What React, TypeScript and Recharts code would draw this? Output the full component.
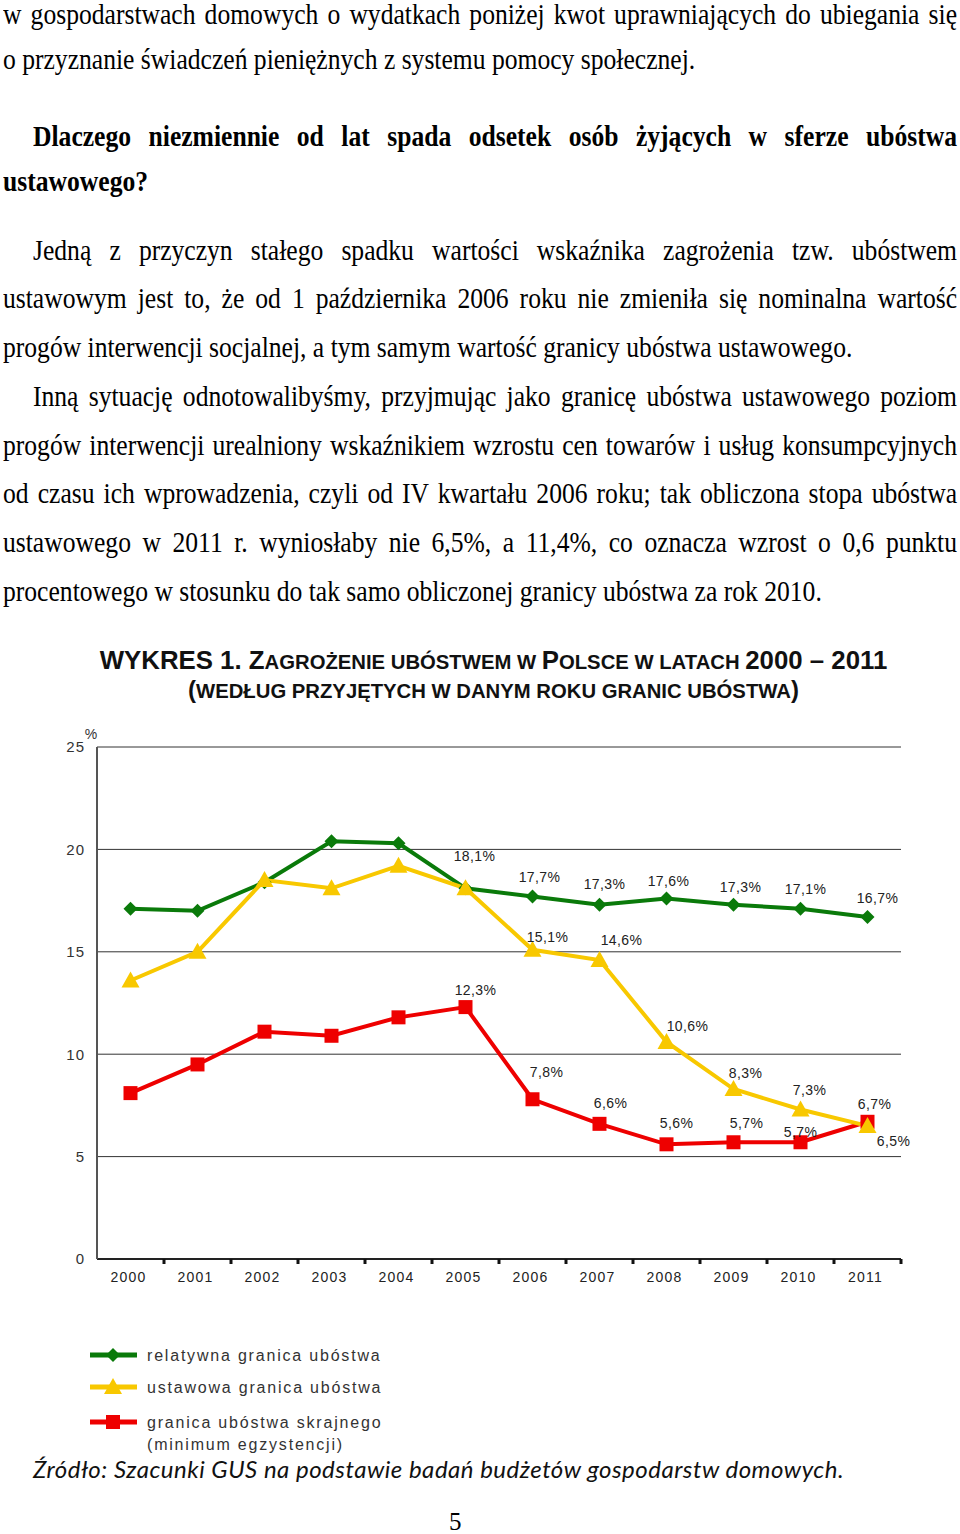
import React from 'react';
import { LineChart, Line, XAxis, YAxis, CartesianGrid, LabelList } from 'recharts';

// ---------- data ----------
const years = ['2000', '2001', '2002', '2003', '2004', '2005', '2006', '2007', '2008', '2009', '2010', '2011'];
const relativeLine = [17.1, 17.0, 18.4, 20.4, 20.3, 18.1, 17.7, 17.3, 17.6, 17.3, 17.1, 16.7];
const statutoryLine = [13.6, 15.0, 18.5, 18.1, 19.2, 18.1, 15.1, 14.6, 10.6, 8.3, 7.3, 6.5];
const extremeLine = [8.1, 9.5, 11.1, 10.9, 11.8, 12.3, 7.8, 6.6, 5.6, 5.7, 5.7, 6.7];
const yTicks = [0, 5, 10, 15, 20, 25];
const seriesNames = ['relatywna granica ubóstwa', 'ustawowa granica ubóstwa', 'granica ubóstwa skrajnego', '(minimum egzystencji)'];

const data = years.map((y, i) => ({
  year: y,
  relative: relativeLine[i],
  statutory: statutoryLine[i],
  extreme: extremeLine[i],
}));

// ---------- presentation ----------
const GREEN = '#0a7a0a';
const YELLOW = '#f8c800';
const RED = '#ee0000';
const SANS = '"Liberation Sans", Arial, sans-serif';
const SERIF = '"Liberation Serif", "Times New Roman", serif';

const CHART_TOP = 700;
const CHART_W = 960;
const CHART_H = 600;
const MARGIN = { top: 47, right: 59, left: 50, bottom: 11 };
const Y_AXIS_W = 47;
const PLOT_W = CHART_W - MARGIN.left - MARGIN.right - Y_AXIS_W;
const BAND = PLOT_W / years.length;

// label offsets (dx, dy) per point index; null = no label
const relOffsets: ([number, number] | null)[] = [null, null, null, null, null, [9, -32], [7, -20], [5, -21], [2, -18], [7, -18], [5, -20], [10, -19]];
const statOffsets: ([number, number] | null)[] = [null, null, null, null, null, null, [15, -13], [22, -20], [21, -16], [12, -16], [9, -19], [26, 15]];
const extOffsets: ([number, number] | null)[] = [null, null, null, null, null, [10, -17], [14, -27], [11, -21], [10, -21], [13, -19], [0, -10], [7, -18]];

const fmt = (v: number) => v.toFixed(1).replace('.', ',') + '%';

const makeLabel = (offsets: ([number, number] | null)[]) => (p: any) => {
  const off = offsets[p.index];
  if (!off) return null;
  return (
    <text
      key={`l${p.index}`}
      x={p.x + off[0]}
      y={p.y + off[1]}
      textAnchor="middle"
      dominantBaseline="central"
      fontFamily={SANS}
      fontSize={14}
      letterSpacing={0.4}
      fill="#222"
    >
      {fmt(p.value)}
    </text>
  );
};

const Diamond = ({ cx, cy, fill }: any) => (
  <polygon points={`${cx},${cy - 7} ${cx + 7},${cy} ${cx},${cy + 7} ${cx - 7},${cy}`} fill={fill} />
);
const Triangle = ({ cx, cy, fill }: any) => (
  <polygon points={`${cx},${cy - 9} ${cx + 9},${cy + 7} ${cx - 9},${cy + 7}`} fill={fill} />
);
const Square = ({ cx, cy, fill }: any) => <rect x={cx - 7} y={cy - 7} width={14} height={14} fill={fill} />;

const XTick = (props: any) => {
  const { x, y, payload } = props;
  return (
    <g>
      <line x1={x + BAND / 2} y1={y} x2={x + BAND / 2} y2={y + 5} stroke="#111" strokeWidth={3} />
      <text x={x - 2} y={y + 18} textAnchor="middle" dominantBaseline="central" fontFamily={SANS} fontSize={14} letterSpacing={1.2} fill="#222">
        {payload.value}
      </text>
    </g>
  );
};

type TL = { t: string; cy: number; indent?: number; just?: boolean; bold?: boolean; first?: boolean };
const textLines: TL[] = [
  { t: 'w gospodarstwach domowych o wydatkach poniżej kwot uprawniających do ubiegania się', cy: 14, just: true, first: true },
  { t: 'o przyznanie świadczeń pieniężnych z systemu pomocy społecznej.', cy: 62 },
  { t: 'Dlaczego niezmiennie od lat spada odsetek osób żyjących w sferze ubóstwa', cy: 139, indent: 30, just: true, bold: true },
  { t: 'ustawowego?', cy: 184, bold: true },
  { t: 'Jedną z przyczyn stałego spadku wartości wskaźnika zagrożenia tzw. ubóstwem', cy: 253, indent: 30, just: true },
  { t: 'ustawowym jest to, że od 1 października 2006 roku nie zmieniła się nominalna wartość', cy: 301, just: true },
  { t: 'progów interwencji socjalnej, a tym samym wartość granicy ubóstwa ustawowego.', cy: 350 },
  { t: 'Inną sytuację odnotowalibyśmy, przyjmując jako granicę ubóstwa ustawowego poziom', cy: 399, indent: 30, just: true },
  { t: 'progów interwencji urealniony wskaźnikiem wzrostu cen towarów i usług konsumpcyjnych', cy: 448, just: true },
  { t: 'od czasu ich wprowadzenia, czyli od IV kwartału 2006 roku; tak obliczona stopa ubóstwa', cy: 496, just: true },
  { t: 'ustawowego w 2011 r. wyniosłaby nie 6,5%, a 11,4%, co oznacza wzrost o 0,6 punktu', cy: 545, just: true },
  { t: 'procentowego w stosunku do tak samo obliczonej granicy ubóstwa za rok 2010.', cy: 594 },
];

const BodyLine = ({ l }: { l: TL }) => (
  <div
    style={{
      position: 'absolute',
      left: 3 + (l.indent || 0),
      width: 954 - (l.indent || 0),
      top: l.first ? 3 : l.cy - 22,
      height: l.first ? 21 : 40,
      lineHeight: l.first ? '21px' : '40px',
      fontFamily: SERIF,
      fontSize: 25.6,
      fontWeight: l.bold ? 'bold' : 'normal',
      color: '#000',
      textAlign: l.just ? 'justify' : 'left',
      textAlignLast: l.just ? 'justify' : 'left',
      transform: 'scaleY(1.12)',
      transformOrigin: l.first ? 'top' : 'center',
    } as React.CSSProperties}
  >
    {l.t}
  </div>
);

const Legend = () => {
  const rows = [
    { y: 1355, color: GREEN, m: 'd', text: [seriesNames[0]] },
    { y: 1387, color: YELLOW, m: 't', text: [seriesNames[1]] },
    { y: 1422, color: RED, m: 's', text: [seriesNames[2], seriesNames[3]] },
  ];
  return (
    <svg style={{ position: 'absolute', left: 0, top: 1330 }} width={500} height={130}>
      {rows.map((r, i) => {
        const y = r.y - 1330;
        return (
          <g key={i}>
            <line x1={90} y1={y} x2={137} y2={y} stroke={r.color} strokeWidth={5} />
            {r.m === 'd' && <Diamond cx={113} cy={y} fill={r.color} />}
            {r.m === 't' && <Triangle cx={113} cy={y} fill={r.color} />}
            {r.m === 's' && <Square cx={113} cy={y} fill={r.color} />}
            {r.text.map((t, j) => (
              <text key={j} x={147} y={y + j * 22} dominantBaseline="central" fontFamily={SANS} fontSize={16} letterSpacing={1.8} fill="#333">
                {t}
              </text>
            ))}
          </g>
        );
      })}
    </svg>
  );
};

export default function App() {
  const big = { fontSize: 25.8 };
  const small = { fontSize: 20.3 };
  return (
    <div style={{ position: 'absolute', left: 0, top: 0, width: 960, height: 1534, background: '#fff', overflow: 'hidden' }}>
      {textLines.map((l, i) => (
        <BodyLine key={i} l={l} />
      ))}

      <div
        style={{
          position: 'absolute',
          left: 0,
          width: 987,
          top: 645,
          textAlign: 'center',
          fontFamily: SANS,
          fontWeight: 'bold',
          color: '#111',
          lineHeight: '30px',
        }}
      >
        <div style={{ height: 30 }}>
          <span style={big}>WYKRES 1. Z</span>
          <span style={small}>AGROŻENIE UBÓSTWEM W </span>
          <span style={big}>P</span>
          <span style={small}>OLSCE W LATACH </span>
          <span style={big}>2000 – 2011</span>
        </div>
        <div style={{ height: 30 }}>
          <span style={{ fontSize: 24 }}>(</span>
          <span style={small}>WEDŁUG PRZYJĘTYCH W DANYM ROKU GRANIC UBÓSTWA</span>
          <span style={{ fontSize: 24 }}>)</span>
        </div>
      </div>

      <div style={{ position: 'absolute', left: 0, top: CHART_TOP }}>
        <LineChart width={CHART_W} height={CHART_H} data={data} margin={MARGIN}>
          <CartesianGrid vertical={false} stroke="#333" strokeWidth={1} />
          <XAxis
            dataKey="year"
            interval={0}
            tickLine={false}
            tickSize={0}
            tickMargin={0}
            height={30}
            padding={{ left: BAND / 2, right: BAND / 2 }}
            axisLine={{ stroke: '#222', strokeWidth: 2 }}
            tick={<XTick />}
          />
          <YAxis
            domain={[0, 25]}
            ticks={yTicks}
            width={Y_AXIS_W}
            tickLine={false}
            tickSize={0}
            tickMargin={12}
            axisLine={{ stroke: '#555', strokeWidth: 2 }}
            tick={{ fontFamily: SANS, fontSize: 15, fill: '#333', letterSpacing: 1 }}
            label={{
              content: ({ viewBox }: any) => (
                <text x={viewBox.x + viewBox.width - 6} y={viewBox.y - 13} textAnchor="middle" dominantBaseline="central" fontFamily={SANS} fontSize={14} fill="#333">
                  %
                </text>
              ),
            }}
          />
          <Line
            dataKey="relative"
            name={seriesNames[0]}
            stroke={GREEN}
            strokeWidth={4}
            dot={(p: any) => <Diamond key={p.index} cx={p.cx} cy={p.cy} fill={GREEN} />}
            isAnimationActive={false}
          >
            <LabelList dataKey="relative" content={makeLabel(relOffsets)} />
          </Line>
          <Line
            dataKey="extreme"
            name={seriesNames[2]}
            stroke={RED}
            strokeWidth={4}
            dot={(p: any) => <Square key={p.index} cx={p.cx} cy={p.cy} fill={RED} />}
            isAnimationActive={false}
          >
            <LabelList dataKey="extreme" content={makeLabel(extOffsets)} />
          </Line>
          <Line
            dataKey="statutory"
            name={seriesNames[1]}
            stroke={YELLOW}
            strokeWidth={4}
            dot={(p: any) => <Triangle key={p.index} cx={p.cx} cy={p.cy} fill={YELLOW} />}
            isAnimationActive={false}
          >
            <LabelList dataKey="statutory" content={makeLabel(statOffsets)} />
          </Line>
        </LineChart>
      </div>

      <Legend />

      <div
        style={{
          position: 'absolute',
          left: 33,
          top: 1454,
          fontFamily: 'Lato, "Open Sans", sans-serif',
          fontStyle: 'italic',
          fontSize: 24,
          letterSpacing: 0.5,
          lineHeight: '30px',
          color: '#111',
        }}
      >
        Źródło: Szacunki GUS na podstawie badań budżetów gospodarstw domowych.
      </div>

      <div style={{ position: 'absolute', left: 449, top: 1512, fontFamily: SERIF, fontSize: 25, lineHeight: '20px' }}>5</div>
    </div>
  );
}
